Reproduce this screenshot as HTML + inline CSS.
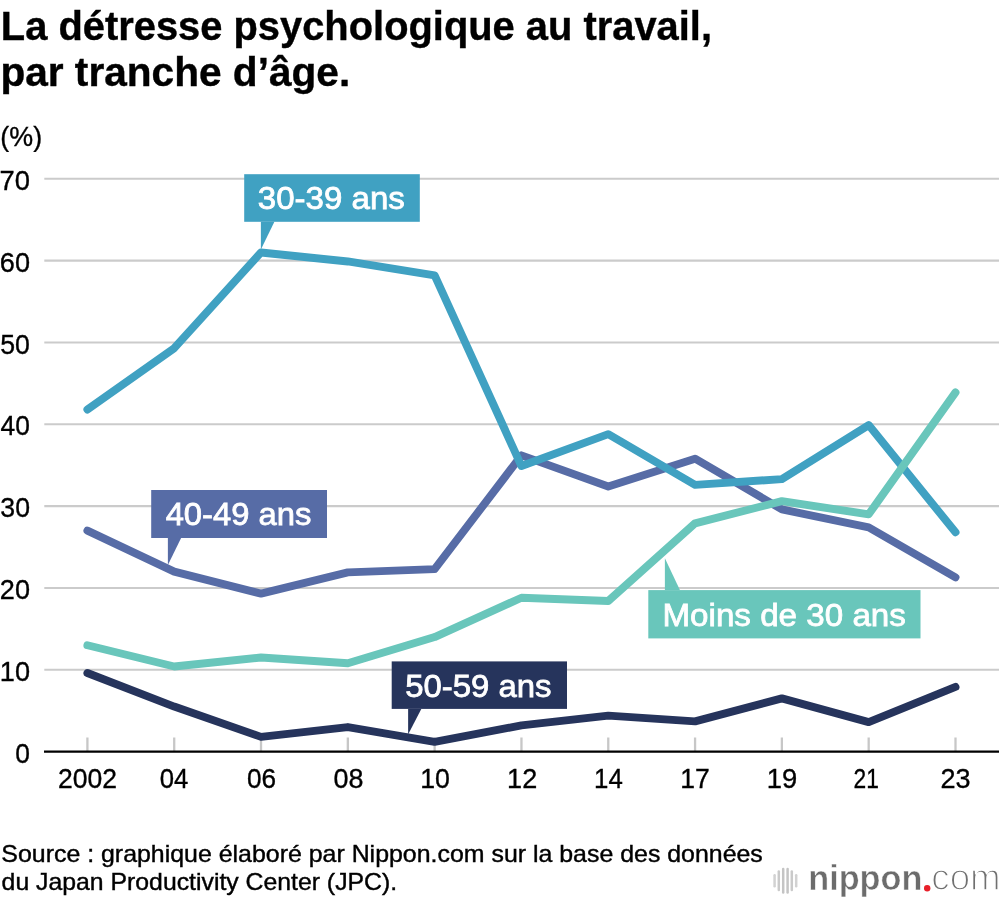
<!DOCTYPE html>
<html lang="fr">
<head>
<meta charset="utf-8">
<title>La détresse psychologique au travail, par tranche d’âge.</title>
<style>
html,body{margin:0;padding:0;background:#fff;}
body{width:1000px;height:902px;overflow:hidden;}
svg{display:block;}
text{font-family:"Liberation Sans",sans-serif;}
.t,.ax,.lb,.src,.lg,.lc{filter:grayscale(1);}
.t{font-weight:bold;font-size:41.3px;fill:#000;stroke:#000;stroke-width:0.4px;}
.ax{font-size:27.5px;fill:#000;stroke:#000;stroke-width:0.35px;}
.lb{font-size:32.2px;fill:#fff;stroke:#fff;stroke-width:0.8px;}
.src{font-size:23.4px;fill:#000;stroke:#000;stroke-width:0.4px;}
.lg{font-weight:bold;font-size:34.5px;fill:#6c6c6c;stroke:#fff;stroke-width:0.5px;}
.lc{font-size:36px;fill:#707070;stroke:#fff;stroke-width:1.4px;}
</style>
</head>
<body>
<svg width="1000" height="902" viewBox="0 0 1000 902">
<rect width="1000" height="902" fill="#fff"/>
<!-- title -->
<text class="t" x="0.83" y="39.60" textLength="711.15" lengthAdjust="spacingAndGlyphs">La détresse psychologique au travail,</text>
<text class="t" x="0.40" y="85.80" textLength="349.78" lengthAdjust="spacingAndGlyphs">par tranche d’âge.</text>
<text class="ax" x="0.32" y="145.50" textLength="41.78" lengthAdjust="spacingAndGlyphs">(%)</text>
<!-- gridlines -->
<line x1="44.3" x2="999" y1="669.77" y2="669.77" stroke="#cbcbcb" stroke-width="2.1"/>
<line x1="44.3" x2="999" y1="587.94" y2="587.94" stroke="#cbcbcb" stroke-width="2.1"/>
<line x1="44.3" x2="999" y1="506.11" y2="506.11" stroke="#cbcbcb" stroke-width="2.1"/>
<line x1="44.3" x2="999" y1="424.29" y2="424.29" stroke="#cbcbcb" stroke-width="2.1"/>
<line x1="44.3" x2="999" y1="342.46" y2="342.46" stroke="#cbcbcb" stroke-width="2.1"/>
<line x1="44.3" x2="999" y1="260.63" y2="260.63" stroke="#cbcbcb" stroke-width="2.1"/>
<line x1="44.3" x2="999" y1="178.80" y2="178.80" stroke="#cbcbcb" stroke-width="2.1"/>
<!-- y labels -->
<text class="ax" x="15.21" y="762.80" textLength="14.68" lengthAdjust="spacingAndGlyphs">0</text>
<text class="ax" x="-0.20" y="680.97" textLength="30.20" lengthAdjust="spacingAndGlyphs">10</text>
<text class="ax" x="-0.17" y="599.14" textLength="30.16" lengthAdjust="spacingAndGlyphs">20</text>
<text class="ax" x="0.32" y="517.31" textLength="29.66" lengthAdjust="spacingAndGlyphs">30</text>
<text class="ax" x="0.62" y="435.49" textLength="29.35" lengthAdjust="spacingAndGlyphs">40</text>
<text class="ax" x="0.31" y="353.66" textLength="29.66" lengthAdjust="spacingAndGlyphs">50</text>
<text class="ax" x="-0.18" y="271.83" textLength="30.17" lengthAdjust="spacingAndGlyphs">60</text>
<text class="ax" x="-0.44" y="190.00" textLength="30.45" lengthAdjust="spacingAndGlyphs">70</text>
<!-- ticks + axis -->
<line x1="87.40" x2="87.40" y1="737.5" y2="751.6" stroke="#c7c7c7" stroke-width="2.3"/>
<line x1="174.21" x2="174.21" y1="737.5" y2="751.6" stroke="#c7c7c7" stroke-width="2.3"/>
<line x1="261.02" x2="261.02" y1="737.5" y2="751.6" stroke="#c7c7c7" stroke-width="2.3"/>
<line x1="347.83" x2="347.83" y1="737.5" y2="751.6" stroke="#c7c7c7" stroke-width="2.3"/>
<line x1="434.64" x2="434.64" y1="737.5" y2="751.6" stroke="#c7c7c7" stroke-width="2.3"/>
<line x1="521.45" x2="521.45" y1="737.5" y2="751.6" stroke="#c7c7c7" stroke-width="2.3"/>
<line x1="608.26" x2="608.26" y1="737.5" y2="751.6" stroke="#c7c7c7" stroke-width="2.3"/>
<line x1="695.07" x2="695.07" y1="737.5" y2="751.6" stroke="#c7c7c7" stroke-width="2.3"/>
<line x1="781.88" x2="781.88" y1="737.5" y2="751.6" stroke="#c7c7c7" stroke-width="2.3"/>
<line x1="868.69" x2="868.69" y1="737.5" y2="751.6" stroke="#c7c7c7" stroke-width="2.3"/>
<line x1="955.50" x2="955.50" y1="737.5" y2="751.6" stroke="#c7c7c7" stroke-width="2.3"/>
<line x1="44" x2="999" y1="751.6" y2="751.6" stroke="#000" stroke-width="2.2"/>
<!-- x labels -->
<text class="ax" x="58.01" y="787.60" textLength="59.02" lengthAdjust="spacingAndGlyphs">2002</text>
<text class="ax" x="159.73" y="787.60" textLength="28.56" lengthAdjust="spacingAndGlyphs">04</text>
<text class="ax" x="247.02" y="787.60" textLength="29.13" lengthAdjust="spacingAndGlyphs">06</text>
<text class="ax" x="333.49" y="787.60" textLength="29.96" lengthAdjust="spacingAndGlyphs">08</text>
<text class="ax" x="420.23" y="787.60" textLength="29.70" lengthAdjust="spacingAndGlyphs">10</text>
<text class="ax" x="507.10" y="787.60" textLength="30.08" lengthAdjust="spacingAndGlyphs">12</text>
<text class="ax" x="594.09" y="787.60" textLength="28.70" lengthAdjust="spacingAndGlyphs">14</text>
<text class="ax" x="680.24" y="787.60" textLength="29.52" lengthAdjust="spacingAndGlyphs">17</text>
<text class="ax" x="766.68" y="787.60" textLength="30.48" lengthAdjust="spacingAndGlyphs">19</text>
<text class="ax" x="853.61" y="787.60" textLength="25.35" lengthAdjust="spacingAndGlyphs">21</text>
<text class="ax" x="940.38" y="787.60" textLength="30.10" lengthAdjust="spacingAndGlyphs">23</text>
<!-- series -->
<polyline points="87.40,673.04 174.21,706.59 261.02,736.87 347.83,727.05 434.64,741.78 521.45,725.41 608.26,715.60 695.07,721.32 781.88,698.41 868.69,722.14 955.50,686.96" fill="none" stroke="#26345c" stroke-width="7.9" stroke-linecap="round" stroke-linejoin="round"/>
<polyline points="87.40,530.66 174.21,571.58 261.02,593.67 347.83,572.40 434.64,569.12 521.45,455.38 608.26,486.48 695.07,458.65 781.88,509.39 868.69,527.39 955.50,577.31" fill="none" stroke="#576ca6" stroke-width="7.9" stroke-linecap="round" stroke-linejoin="round"/>
<polyline points="87.40,409.56 174.21,348.19 261.02,252.45 347.83,261.45 434.64,275.36 521.45,466.02 608.26,434.11 695.07,484.84 781.88,479.11 868.69,425.10 955.50,532.30" fill="none" stroke="#40a1c2" stroke-width="7.9" stroke-linecap="round" stroke-linejoin="round"/>
<polyline points="87.40,645.22 174.21,666.50 261.02,657.50 347.83,663.23 434.64,637.04 521.45,597.76 608.26,601.04 695.07,523.30 781.88,501.20 868.69,514.30 955.50,392.37" fill="none" stroke="#69c6bb" stroke-width="7.9" stroke-linecap="round" stroke-linejoin="round"/>
<!-- callouts -->
<rect x="244.2" y="174.2" width="175.6" height="47.6" fill="#40a1c2"/>
<polygon points="260.9,221.80 274.4,221.80 260.9,249.5" fill="#40a1c2"/>
<text class="lb" x="257.86" y="209.40" textLength="146.92" lengthAdjust="spacingAndGlyphs">30-39 ans</text>
<rect x="151.2" y="490" width="175.8" height="48" fill="#576ca6"/>
<polygon points="167.9,538.00 181.1,538.00 167.9,565.0" fill="#576ca6"/>
<text class="lb" x="165.65" y="525.20" textLength="145.82" lengthAdjust="spacingAndGlyphs">40-49 ans</text>
<rect x="391.7" y="661.4" width="175.3" height="47.5" fill="#26345c"/>
<polygon points="408.1,708.90 421.3,708.90 408.1,734.5" fill="#26345c"/>
<text class="lb" x="405.19" y="696.90" textLength="146.40" lengthAdjust="spacingAndGlyphs">50-59 ans</text>
<rect x="648.3" y="590.1" width="272.2" height="48.3" fill="#69c6bb"/>
<polygon points="664.9,590.10 679.9,590.10 664.9,558.2" fill="#69c6bb"/>
<text class="lb" x="662.46" y="625.80" textLength="243.46" lengthAdjust="spacingAndGlyphs">Moins de 30 ans</text>
<!-- source -->
<text class="src" x="1.37" y="862.00" textLength="761.46" lengthAdjust="spacingAndGlyphs">Source : graphique élaboré par Nippon.com sur la base des données</text>
<text class="src" x="1.64" y="889.70" textLength="395.49" lengthAdjust="spacingAndGlyphs">du Japan Productivity Center (JPC).</text>
<!-- logo -->
<line x1="774.6" x2="774.6" y1="875.2" y2="886.3" stroke="#d2d2d2" stroke-width="2.5" stroke-linecap="round"/>
<line x1="778.8" x2="778.8" y1="871.4" y2="890.0" stroke="#cacaca" stroke-width="2.5" stroke-linecap="round"/>
<line x1="783.2" x2="783.2" y1="869.0" y2="892.6" stroke="#c4c4c4" stroke-width="2.5" stroke-linecap="round"/>
<line x1="787.6" x2="787.6" y1="869.0" y2="892.6" stroke="#c4c4c4" stroke-width="2.5" stroke-linecap="round"/>
<line x1="791.8" x2="791.8" y1="871.4" y2="890.0" stroke="#cacaca" stroke-width="2.5" stroke-linecap="round"/>
<line x1="796.2" x2="796.2" y1="875.2" y2="886.3" stroke="#d2d2d2" stroke-width="2.5" stroke-linecap="round"/>
<text class="lg" x="808.25" y="889.80" textLength="114.17" lengthAdjust="spacingAndGlyphs">nippon</text>
<text x="923.2" y="890.3" font-weight="bold" font-size="28px" fill="#e8202a">.</text>
<circle cx="927.2" cy="888.2" r="3.2" fill="#e8202a"/>
<text class="lc" x="931.29" y="889.80" textLength="69.33" lengthAdjust="spacingAndGlyphs">com</text>
</svg>
</body>
</html>
